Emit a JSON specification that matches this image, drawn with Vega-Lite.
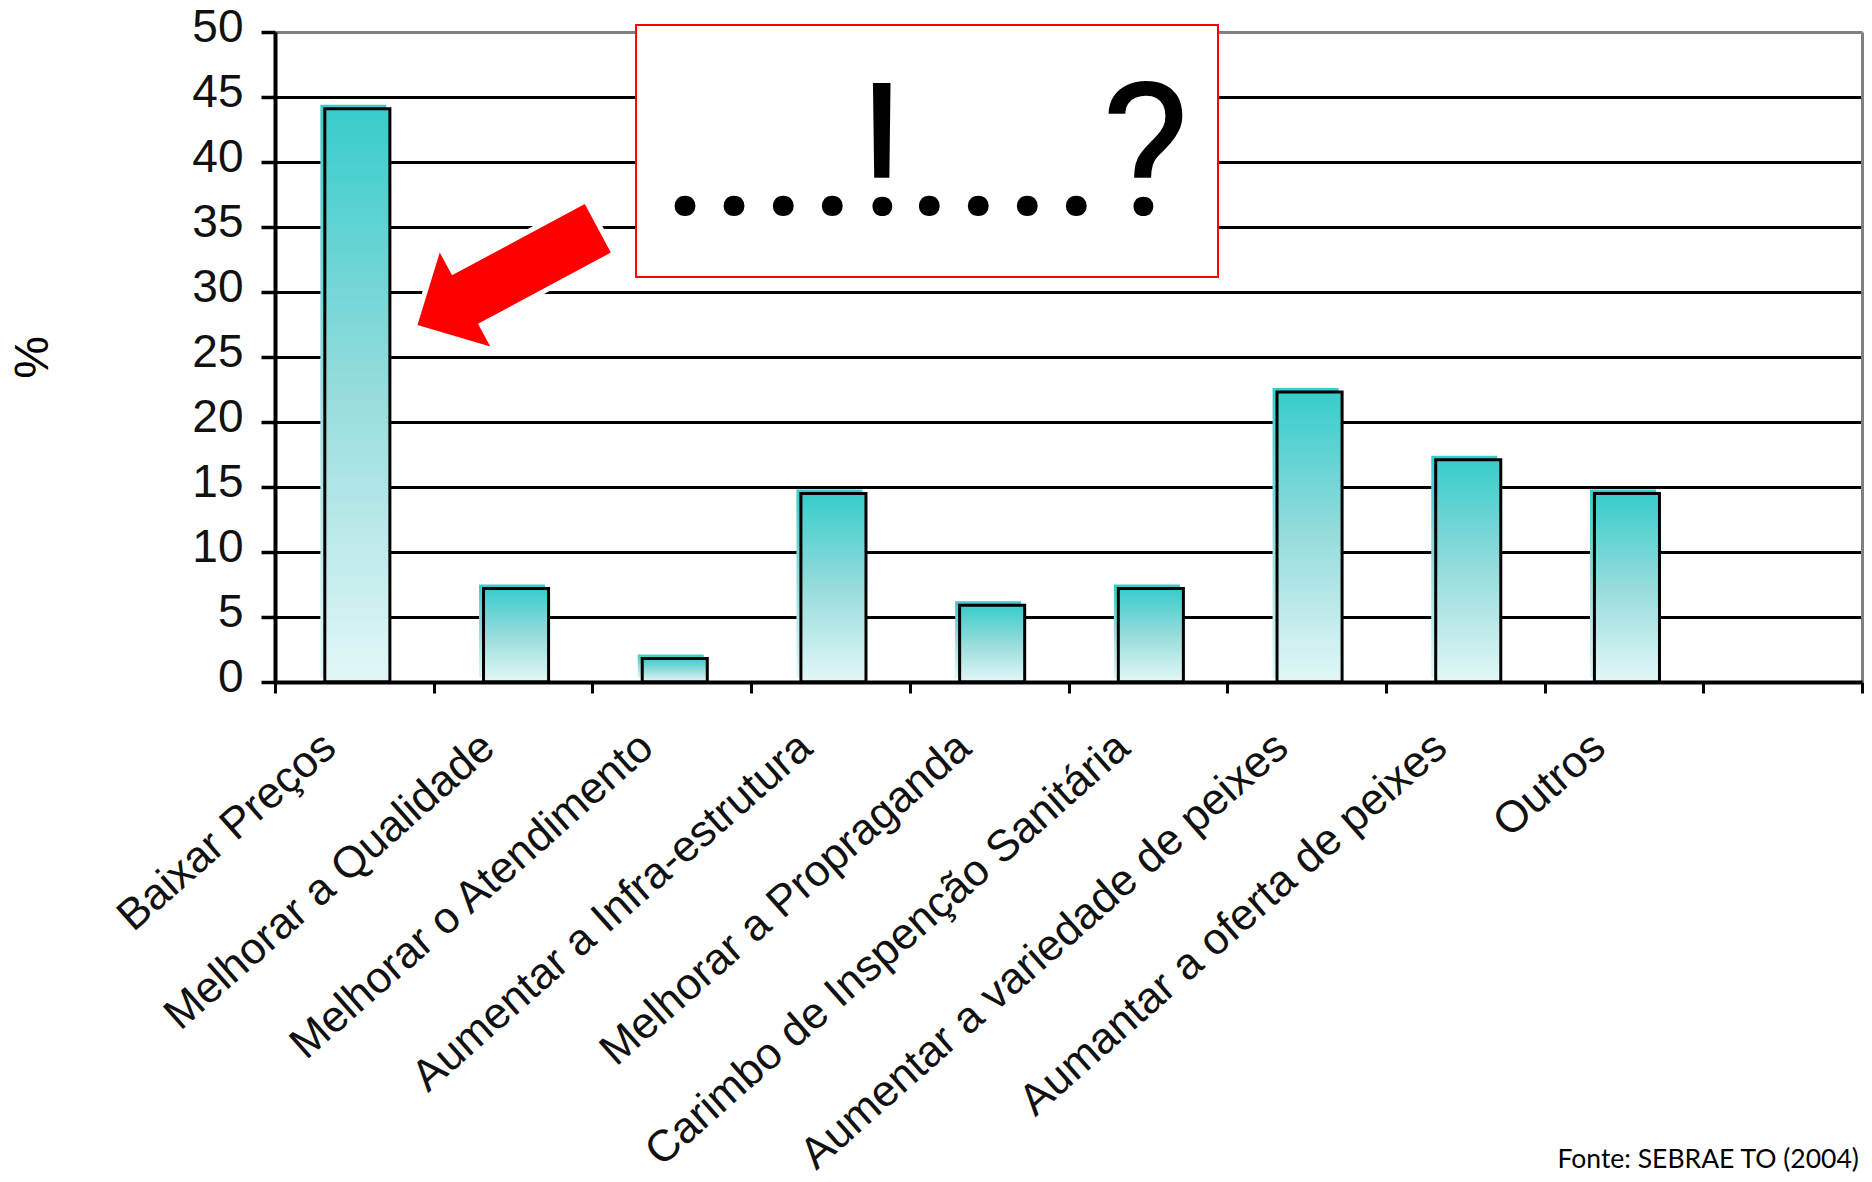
{
  "$schema": "https://vega.github.io/schema/vega-lite/v6.json",
  "width": 1587,
  "height": 650,
  "autosize": {"type": "none"},
  "padding": {"left": 275, "top": 32, "right": 10, "bottom": 500},
  "background": "white",
  "config": {
    "view": {"stroke": null},
    "font": "Liberation Sans"
  },
  "datasets": {
    "respostas": [
      {"motivo": "Baixar Preços", "pct": 44.1},
      {"motivo": "Melhorar a Qualidade", "pct": 7.2},
      {"motivo": "Melhorar o Atendimento", "pct": 1.8},
      {"motivo": "Aumentar a Infra-estrutura", "pct": 14.5},
      {"motivo": "Melhorar a Propraganda", "pct": 5.9},
      {"motivo": "Carimbo de Inspenção Sanitária", "pct": 7.2},
      {"motivo": "Aumentar a variedade de peixes", "pct": 22.3},
      {"motivo": "Aumantar a oferta de peixes", "pct": 17.1},
      {"motivo": "Outros", "pct": 14.5}
    ],
    "nota": [{"texto": "....!....?"}],
    "fonte": [{"texto": "Fonte: SEBRAE TO (2004)"}]
  },
  "layer": [
    {
      "data": {"name": "respostas"},
      "mark": {
        "type": "bar",
        "width": {"band": 0.416},
        "xOffset": -1,
        "yOffset": -4,
        "fill": {
          "gradient": "linear", "x1": 0, "y1": 0, "x2": 0, "y2": 1,
          "stops": [
            {"offset": 0, "color": "#38CCCC"},
            {"offset": 0.5, "color": "#97DCDC"},
            {"offset": 1, "color": "#E2F7F7"}
          ]
        },
        "stroke": null
      },
      "encoding": {
        "x": {
          "field": "motivo", "type": "nominal", "sort": null,
          "scale": {
            "domain": ["Baixar Preços", "Melhorar a Qualidade", "Melhorar o Atendimento", "Aumentar a Infra-estrutura", "Melhorar a Propraganda", "Carimbo de Inspenção Sanitária", "Aumentar a variedade de peixes", "Aumantar a oferta de peixes", "Outros", " "],
            "paddingInner": 0, "paddingOuter": 0
          },
          "axis": null
        },
        "y": {
          "field": "pct", "type": "quantitative",
          "scale": {"domain": [0, 50], "nice": false},
          "axis": {
            "title": "%",
            "titleFontSize": 48,
            "titleFontWeight": "normal",
            "titleColor": "black",
            "titleFont": "Liberation Sans",
            "titlePadding": 134,
            "values": [0, 5, 10, 15, 20, 25, 30, 35, 40, 45, 50],
            "grid": true,
            "gridColor": {"condition": {"test": "datum.value === 50", "value": "#808080"}, "value": "black"},
            "gridWidth": 3,
            "gridOpacity": 1,
            "domainColor": "black",
            "domainWidth": 4,
            "tickColor": "black",
            "tickSize": 14,
            "tickWidth": 3.5,
            "labelFontSize": 46,
            "labelColor": "#111111",
            "labelPadding": 18,
            "labelOffset": -5,
            "zindex": 0
          }
        }
      }
    },
    {
      "data": {"name": "respostas"},
      "mark": {
        "type": "bar",
        "width": {"band": 0.41},
        "xOffset": 3,
        "fill": {
          "gradient": "linear", "x1": 0, "y1": 0, "x2": 0, "y2": 1,
          "stops": [
            {"offset": 0, "color": "#38CCCC"},
            {"offset": 0.5, "color": "#97DCDC"},
            {"offset": 1, "color": "#E2F7F7"}
          ]
        },
        "stroke": "black",
        "strokeWidth": 3
      },
      "encoding": {
        "x": {
          "field": "motivo", "type": "nominal", "sort": null,
          "scale": {
            "domain": ["Baixar Preços", "Melhorar a Qualidade", "Melhorar o Atendimento", "Aumentar a Infra-estrutura", "Melhorar a Propraganda", "Carimbo de Inspenção Sanitária", "Aumentar a variedade de peixes", "Aumantar a oferta de peixes", "Outros", " "],
            "paddingInner": 0, "paddingOuter": 0
          },
          "axis": {
            "title": null,
            "tickBand": "extent",
            "grid": false,
            "domainColor": "black",
            "domainWidth": 4,
            "tickColor": "black",
            "tickWidth": 3,
            "tickSize": 11,
            "labelAngle": -41.5,
            "labelAlign": "right",
            "labelBaseline": "middle",
            "labelFontSize": 44,
            "labelColor": "#111111",
            "labelPadding": 48,
            "labelOffset": -25,
            "labelLimit": 2000,
            "labelOverlap": false,
            "zindex": 2
          }
        },
        "y": {
          "field": "pct", "type": "quantitative",
          "scale": {"domain": [0, 50], "nice": false},
          "axis": null
        }
      }
    },
    {
      "data": {"values": [{}]},
      "mark": {
        "type": "point",
        "shape": "M -1 -0.269 L 0.473 -0.269 L 0.473 -0.522 L 1 0 L 0.473 0.522 L 0.473 0.269 L -1 0.269 Z",
        "size": 41861,
        "angle": 151.8,
        "filled": true,
        "fill": "white",
        "stroke": "white",
        "strokeWidth": 10,
        "strokeJoin": "miter",
        "opacity": 1
      },
      "encoding": {
        "x": {"datum": 1.466, "type": "quantitative", "scale": {"domain": [0, 10], "nice": false, "zero": false}, "axis": null},
        "y": {"datum": 31.18, "type": "quantitative", "scale": {"domain": [0, 50], "nice": false}, "axis": null}
      }
    },
    {
      "data": {"values": [{}]},
      "mark": {
        "type": "point",
        "shape": "M -1 -0.269 L 0.473 -0.269 L 0.473 -0.522 L 1 0 L 0.473 0.522 L 0.473 0.269 L -1 0.269 Z",
        "size": 41861,
        "angle": 151.8,
        "filled": true,
        "fill": "#FF0000",
        "strokeWidth": 0,
        "opacity": 1
      },
      "encoding": {
        "x": {"datum": 1.466, "type": "quantitative", "scale": {"domain": [0, 10], "nice": false, "zero": false}, "axis": null},
        "y": {"datum": 31.18, "type": "quantitative", "scale": {"domain": [0, 50], "nice": false}, "axis": null}
      }
    },
    {
      "data": {"values": [{}]},
      "mark": {"type": "rect", "fill": "white", "stroke": "#FF0000", "strokeWidth": 2},
      "encoding": {
        "x": {"datum": 2.275, "type": "quantitative", "scale": {"domain": [0, 10], "nice": false, "zero": false}, "axis": null},
        "x2": {"datum": 5.942},
        "y": {
          "datum": 50.54, "type": "quantitative",
          "scale": {"domain": [0, 50], "nice": false},
          "axis": {
            "orient": "right",
            "title": null,
            "labels": false,
            "ticks": false,
            "grid": false,
            "domainColor": "#808080",
            "domainWidth": 3
          }
        },
        "y2": {"datum": 31.15}
      }
    },
    {
      "data": {"name": "nota"},
      "mark": {
        "type": "text",
        "font": "Roboto",
        "fontSize": 186,
        "align": "center",
        "baseline": "alphabetic",
        "color": "black"
      },
      "encoding": {
        "text": {"field": "texto"},
        "x": {"datum": 4.10, "type": "quantitative", "scale": {"domain": [0, 10], "nice": false, "zero": false}, "axis": null},
        "y": {"datum": 35.9, "type": "quantitative", "scale": {"domain": [0, 50], "nice": false}, "axis": null}
      }
    },
    {
      "data": {"name": "fonte"},
      "mark": {
        "type": "text",
        "font": "Lato",
        "fontSize": 26.5,
        "align": "right",
        "baseline": "alphabetic",
        "color": "black"
      },
      "encoding": {
        "text": {"field": "texto"},
        "x": {"datum": 9.98, "type": "quantitative", "scale": {"domain": [0, 10], "nice": false, "zero": false}, "axis": null},
        "y": {"datum": -37.4, "type": "quantitative", "scale": {"domain": [0, 50], "nice": false}, "axis": null}
      }
    }
  ],
  "resolve": {
    "scale": {"x": "independent"},
    "axis": {"x": "independent", "y": "independent"}
  }
}
